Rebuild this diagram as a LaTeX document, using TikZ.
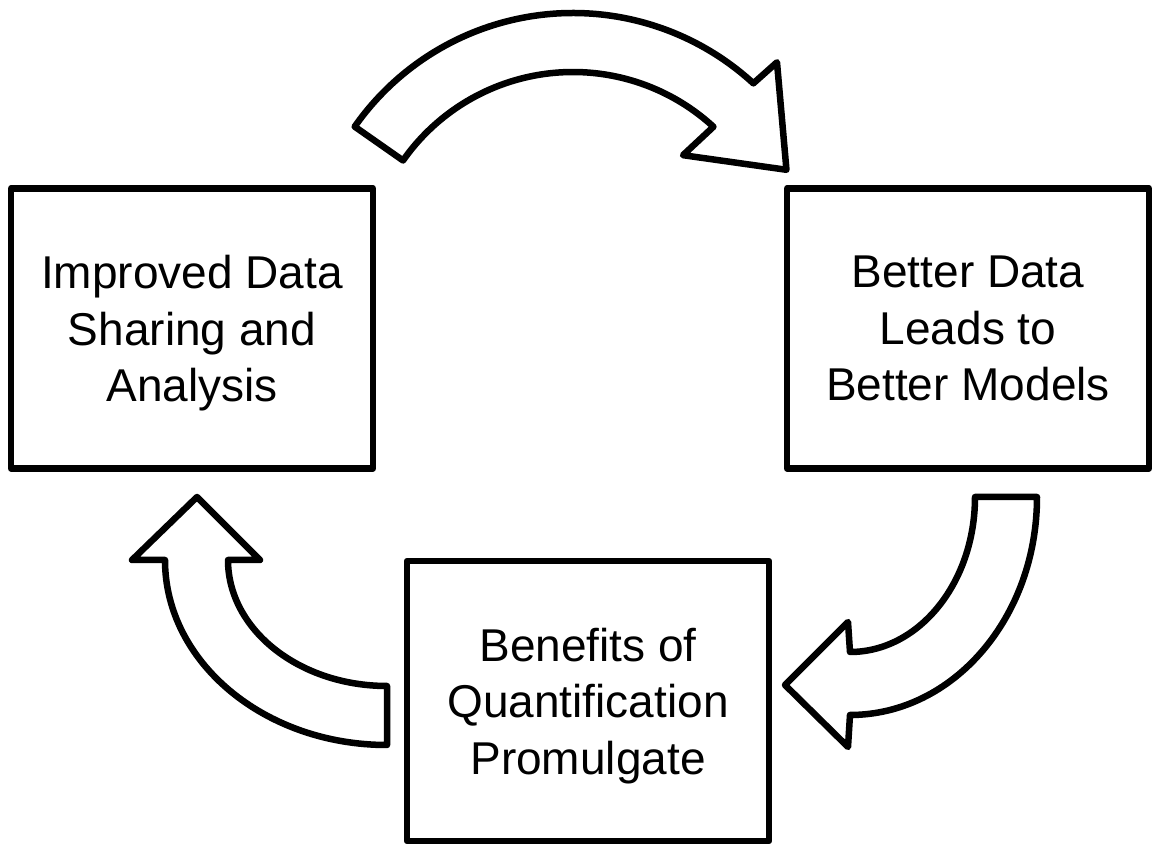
\documentclass[tikz,border=0pt]{standalone}
\usepackage{fontspec}
\setmainfont{Liberation Sans}
\usetikzlibrary{positioning}

\begin{document}
\begin{tikzpicture}[
      x=0.5pt, y=0.5pt,
      box/.style={draw, line width=3.25pt, line join=round, align=center, inner sep=0pt,
                  font=\fontsize{23}{28.2}\selectfont, text depth=0pt,
                  minimum width=181pt, minimum height=140pt},
      blockarr/.style={draw, fill=white, line width=3.25pt, line join=round}
    ]
    \useasboundingbox (0,0) rectangle (1153,846);
    % the three stages
    \node[box]                        (share)   at (192,517.5) {Improved Data\\Sharing and\\Analysis};
    \node[box, right=203.75pt of share] (models)                {Better Data\\Leads to\\Better Models};
    \node[box]                        (benefit) at (588,145)   {Benefits of\\Quantification\\Promulgate};
    % curved block arrows between them
    \begin{scope}[shift={(573,566.5)}]
      \draw[blockarr] (145:266.5) arc[start angle=145, end angle=47.4, radius=266.5]
        -- (46.8:298) -- (27.2:240) -- (48.5:166) -- (47.4:207.5)
        arc[start angle=47.4, end angle=145, radius=207.5] -- cycle;
    \end{scope}
    \draw[blockarr] (975,349) -- (1037,349)
      arc[start angle=0, end angle=-90, x radius=187, y radius=218]
      -- (848,99) -- (785,161) -- (848,224) -- (850,194)
      arc[start angle=-90, end angle=0, x radius=125, y radius=155] -- cycle;
    \draw[blockarr] (387,101)
      arc[start angle=270, end angle=180, x radius=222, y radius=185]
      -- (132,286) -- (197,349) -- (260,286) -- (228,286)
      arc[start angle=180, end angle=270, x radius=159, y radius=126] -- cycle;
  \end{tikzpicture}
\end{document}
